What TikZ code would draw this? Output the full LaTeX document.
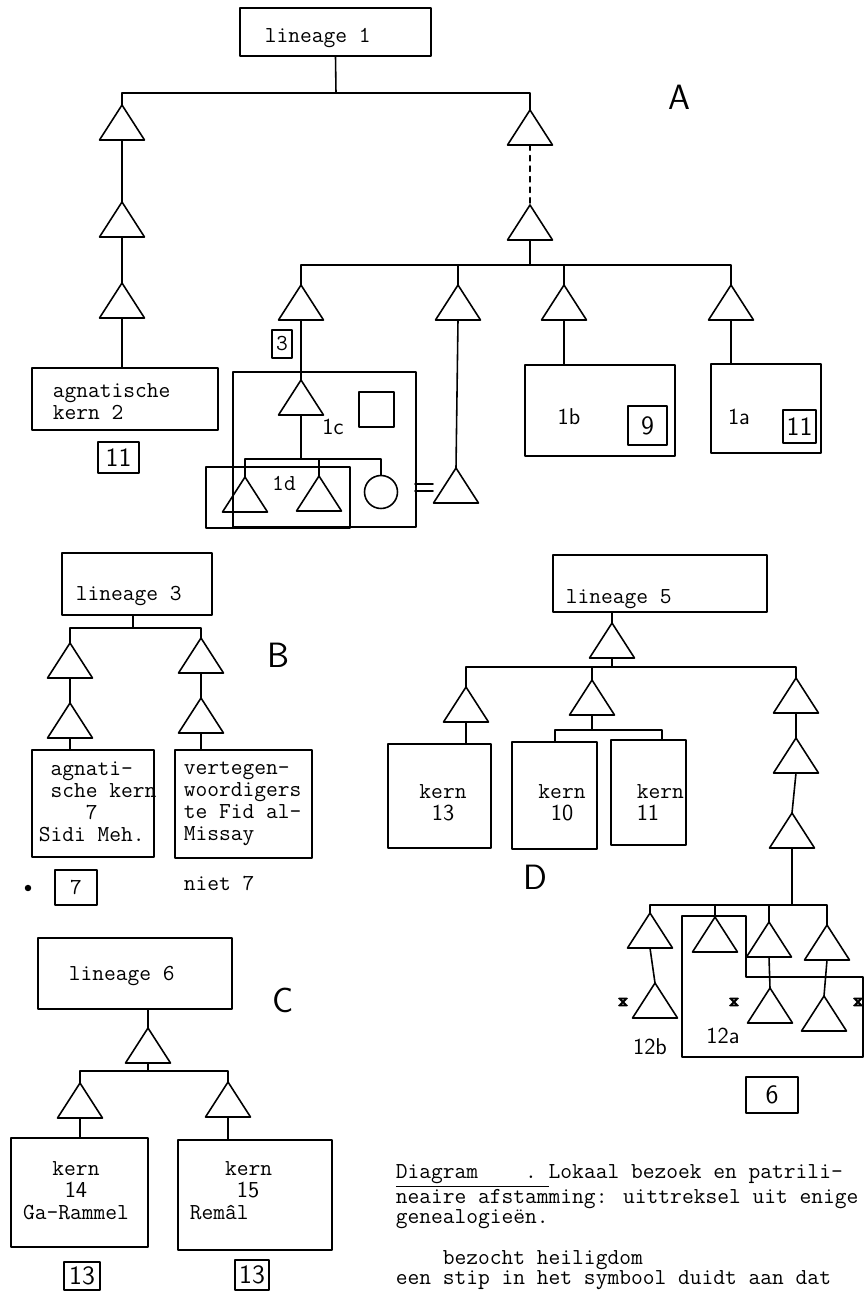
\documentclass[tikz,border=0pt]{standalone}
\usepackage{tikz}
\usetikzlibrary{fit}

% one male member: apex at (#2,#3), named #1-t (apex) and #1-b (base)
\newcommand{\kinsman}[3]{%
  \coordinate (#1-t) at (#2,#3);
  \coordinate (#1-b) at (#2,#3+35);
  \draw (#1-t) -- ++(-22.5,35) -- ++(45,0) -- cycle;}
% visited-shrine mark
\newcommand{\visitmark}[2]{%
  \draw[line width=1.1pt] (#1-3,#2-3) -- (#1+3,#2+3) (#1-3,#2+3) -- (#1+3,#2-3)
    (#1-4,#2-3.5) -- (#1+4,#2-3.5) (#1-4,#2+3.5) -- (#1+4,#2+3.5);}

\begin{document}
\begin{tikzpicture}[x=0.02cm, y=-0.02cm, line cap=round, line join=round, line width=0.9pt,
    box/.style={draw, inner sep=0pt, fit={#1}},
    tt/.style={font=\fontsize{13}{12.5}\selectfont\ttfamily, inner sep=0pt, align=left},
    sf/.style={font=\fontsize{13}{13}\selectfont\sffamily, inner sep=0pt},
    num/.style={font=\fontsize{15}{15}\selectfont\sffamily, inner sep=0pt},
    hand/.style={font=\fontsize{20}{20}\selectfont\sffamily}]
  \useasboundingbox (0,0) rectangle (866,1295);

  % ---------- A ----------
  \node[box={(240,8)(431,56)}] (l1) {};
  \node[tt, anchor=base west] (l1txt) at (264,42) {lineage 1};
  \node[hand] (lA) at (679,97) {A};
  \coordinate (barA) at (336,93);
  \draw (l1.south) -- (barA);
  \kinsman{a1}{122}{105}
  \kinsman{a2}{530}{110}
  \kinsman{a3}{122}{202}
  \kinsman{a4}{530}{205}
  \kinsman{a5}{122}{283}
  \draw (a1-t) |- (barA) -| (a2-t);
  \draw (a1-b) -- (a3-t);
  \draw (a3-b) -- (a5-t);
  \draw[dashed] (a2-b) -- (a4-t);

  \node[box={(32,368)(218,430)}] (k2) {};
  \draw (a5-b) -- (a5-b |- k2.north);
  \node[tt, anchor=north west] (k2txt) at (52,383) {agnatische\\kern 2};
  \node[box={(98,442)(139,473)}] (n11a) {};
  \node[num] (n11atxt) at (n11a) {11};

  \coordinate (barA2) at (530,265);
  \draw (a4-b) -- (barA2);
  \kinsman{c1}{301}{285}
  \kinsman{c2}{458}{285}
  \kinsman{c3}{564}{285}
  \kinsman{c4}{731}{285}
  \draw (c1-t) |- (barA2) -| (c4-t);
  \draw (c2-t) -- (c2-t |- barA2);
  \draw (c3-t) -- (c3-t |- barA2);

  % 1c / 1d
  \node[box={(272,330)(292,358)}] (n3) {};
  \node[tt] (n3txt) at (n3) {3};
  \node[box={(233,372)(416,527)}] (k1c) {};
  \kinsman{p1c}{301}{380}
  \draw (c1-b) -- (p1c-t);
  \node[sf] (t1c) at (333,427) {1c};
  \node[box={(359,392)(394,427)}] (shrine) {};
  \node[box={(206,467)(350,528)}] (k1d) {};
  \node[draw, circle, minimum size=0.66cm, inner sep=0pt] (wife) at (381,492) {};
  \coordinate (bar1d) at (301,459);
  \draw (p1c-b) -- (bar1d);
  \kinsman{d1}{245}{477}
  \kinsman{d2}{319}{476}
  \draw (d1-t) |- (bar1d) -| (wife.north);
  \draw (d2-t) -- (d2-t |- bar1d);
  \node[tt] (t1d) at (284,483) {1d};
  \draw (415,484) -- (433,484) (415,491) -- (433,491);
  \kinsman{c2l}{456}{468}
  \draw (c2-b) -- (c2l-t);

  % 1b / 1a
  \node[box={(525,365)(675,456)}] (k1b) {};
  \draw (c3-b) -- (c3-b |- k1b.north);
  \node[sf] (t1b) at (569,417) {1b};
  \node[box={(628,406)(667,445)}] (n9) {};
  \node[num] (n9txt) at (n9) {9};
  \node[box={(711,364)(821,453)}] (k1a) {};
  \draw (c4-b) -- (c4-b |- k1a.north);
  \node[sf] (t1a) at (739,417) {1a};
  \node[box={(783,410)(816,443)}] (n11b) {};
  \node[num] (n11btxt) at (n11b) {11};

  % ---------- B ----------
  \node[box={(62,553)(212,615)}] (l3) {};
  \node[tt, anchor=base west] (l3txt) at (75,600) {lineage 3};
  \node[hand] (lB) at (278,655) {B};
  \coordinate (barB) at (133,628);
  \draw (barB |- l3.south) -- (barB);
  \kinsman{b1}{70}{643}
  \kinsman{b2}{201}{638}
  \kinsman{b3}{70}{703}
  \kinsman{b4}{201}{698}
  \draw (b1-t) |- (barB) -| (b2-t);
  \draw (b1-b) -- (b3-t);
  \draw (b2-b) -- (b4-t);
  \node[box={(32,750)(154,857)}] (k7) {};
  \node[box={(175,750)(312,858)}] (kfid) {};
  \draw (b3-b) -- (b3-b |- k7.north);
  \draw (b4-b) -- (b4-b |- kfid.north);
  \node[tt, anchor=north west] (k7txt) at (38,761)
    {\phantom{a}agnati-\\\phantom{a}sche kern\\\phantom{aaaa}7\\Sidi Meh.};
  \node[tt, anchor=north west] (kfidtxt) at (183,761)
    {vertegen-\\woordigers\\te Fid al-\\Missay};
  \node[circle, fill, inner sep=1.3pt] (dot7) at (28,888) {};
  \node[box={(55,870)(97,905)}] (n7) {};
  \node[tt] (n7txt) at (n7) {7};
  \node[tt, anchor=base west] (niet) at (183,890) {niet 7};

  % ---------- C ----------
  \node[box={(38,938)(232,1009)}] (l6) {};
  \node[tt, anchor=base west] (l6txt) at (68,980) {lineage 6};
  \node[hand] (lC) at (283,1000) {C};
  \kinsman{g1}{148}{1028}
  \draw (g1-t |- l6.south) -- (g1-t);
  \coordinate (barC) at (148,1071);
  \draw (g1-b) -- (barC);
  \kinsman{g2}{80}{1083}
  \kinsman{g3}{228}{1082}
  \draw (g2-t) |- (barC) -| (g3-t);
  \node[box={(11,1138)(148,1247)}] (k14) {};
  \node[box={(178,1140)(332,1250)}] (k15) {};
  \draw (g2-b) -- (g2-b |- k14.north);
  \draw (g3-b) -- (g3-b |- k15.north);
  \node[tt, anchor=north, align=center] (k14txt) at (76,1161)
    {kern\\{\sffamily 14}\\Ga-Rammel};
  \node[tt, anchor=north west] (k15txt) at (189,1161)
    {\phantom{aaa}kern\\\phantom{aaaa}{\sffamily 15}\\Rem\^al};
  \node[box={(64,1262)(100,1290)}] (n13a) {};
  \node[num] (n13atxt) at (n13a) {13};
  \node[box={(235,1260)(269,1290)}] (n13b) {};
  \node[num] (n13btxt) at (n13b) {13};

  % ---------- D ----------
  \node[box={(553,555)(767,612)}] (l5) {};
  \node[tt, anchor=base west] (l5txt) at (565,603) {lineage 5};
  \node[hand] (lD) at (535,877) {D};
  \kinsman{h1}{612}{623}
  \draw (h1-t |- l5.south) -- (h1-t);
  \coordinate (barD) at (612,667);
  \draw (h1-b) -- (barD);
  \kinsman{h2}{466}{687}
  \kinsman{h3}{592}{680}
  \kinsman{h4}{796}{678}
  \draw (h2-t) |- (barD) -| (h4-t);
  \draw (h3-t) -- (h3-t |- barD);
  \node[box={(388,744)(491,848)}] (k13) {};
  \node[box={(512,742)(597,849)}] (k10) {};
  \node[box={(611,740)(686,845)}] (k11) {};
  \draw (h2-b) -- (h2-b |- k13.north);
  \coordinate (barD2) at (592,730);
  \coordinate (p10) at (555,742);
  \coordinate (p11) at (662,740);
  \draw (h3-b) -- (barD2);
  \draw (p10) |- (barD2) -| (p11);
  \node[tt, anchor=north, align=center] (k13txt) at (443,784) {kern\\{\sffamily 13}};
  \node[tt, anchor=north, align=center] (k10txt) at (562,784) {kern\\{\sffamily 10}};
  \node[tt, anchor=north west] (k11txt) at (636,784) {kern\\{\sffamily 11}};

  \kinsman{h5}{796}{738}
  \kinsman{h6}{792}{813}
  \draw (h4-b) -- (h5-t);
  \draw (h5-b) -- (h6-t);
  \coordinate (barD3) at (792,905);
  \draw (h6-b) -- (barD3);
  \kinsman{e1}{650}{913}
  \kinsman{e3}{715}{917}
  \kinsman{e4}{769}{922}
  \kinsman{e6}{827}{925}
  \draw (e1-t) |- (barD3) -| (e6-t);
  \draw (e3-t) -- (e3-t |- barD3);
  \draw (e4-t) -- (e4-t |- barD3);
  \kinsman{e2}{655}{983}
  \kinsman{e5}{770}{988}
  \kinsman{e7}{824}{996}
  \draw (e1-b) -- (e2-t);
  \draw (e4-b) -- (e5-t);
  \draw (e6-b) -- (e7-t);
  \draw (682,916) -- (746,916) -- (746,977) -- (863,977) -- (863,1057) -- (682,1057) -- cycle;
  \visitmark{623}{1002}
  \visitmark{734}{1002}
  \visitmark{858}{1002}
  \node[sf] (t12b) at (650,1047) {12b};
  \node[sf] (t12a) at (723,1036) {12a};
  \node[box={(746,1077)(798,1113)}] (n6) {};
  \node[num] (n6txt) at (n6) {6};

  % caption
  \node[tt, anchor=north west, font=\fontsize{13}{11.6}\selectfont\ttfamily] (caption) at (395,1164)
    {\underline{Diagram~~~~.~}Lokaal bezoek en patrili-\\
     neaire afstamming: uittreksel uit enige\\
     genealogieën.\\[11.6pt]
     \phantom{aaaa}bezocht heiligdom\\
     een stip in het symbool duidt aan dat};
\end{tikzpicture}
\end{document}
